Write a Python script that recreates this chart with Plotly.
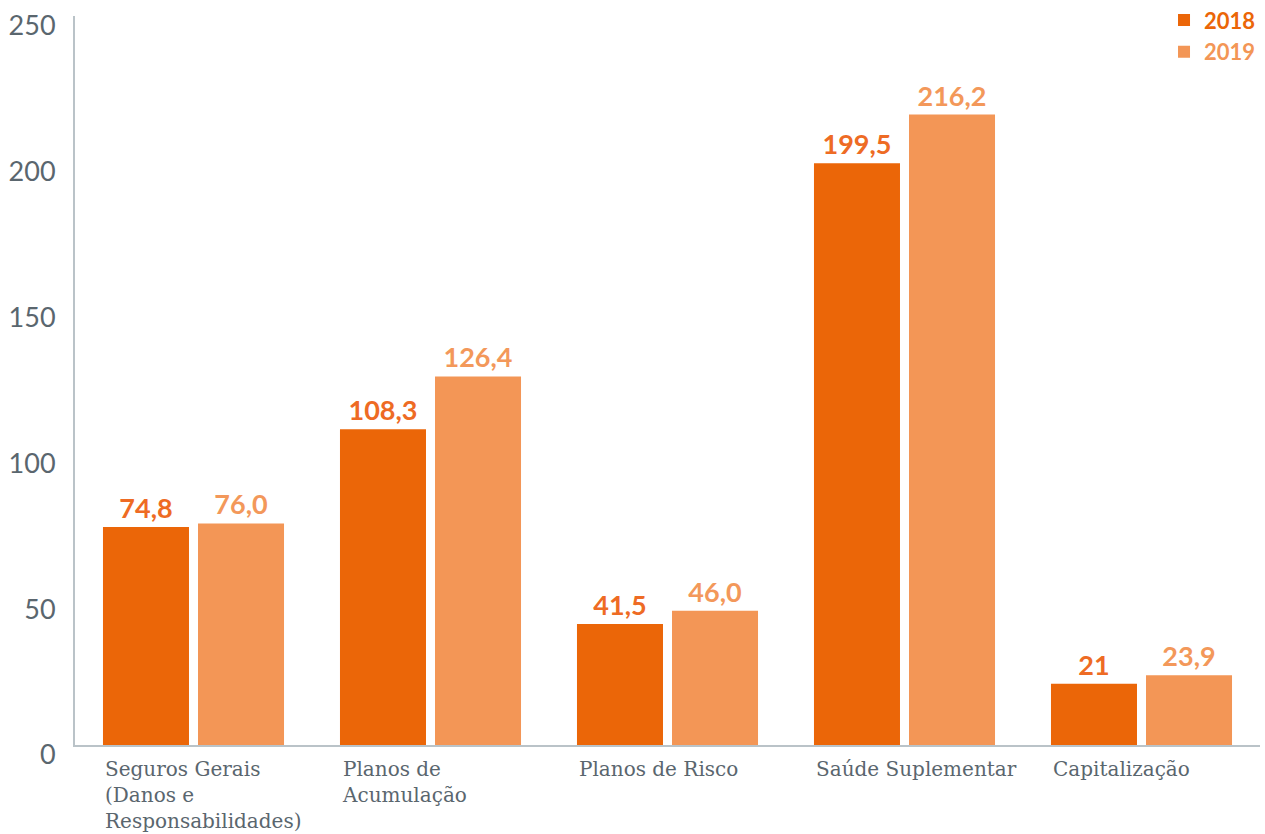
import plotly.graph_objects as go

categories = ["Seguros Gerais<br>(Danos e<br>Responsabilidades)", "Planos de<br>Acumulação",
              "Planos de Risco", "Saúde Suplementar", "Capitalização"]
series_names = ["2018", "2019"]
values_2018 = [74.8, 108.3, 41.5, 199.5, 21]
values_2019 = [76.0, 126.4, 46.0, 216.2, 23.9]
labels_2018 = ["74,8", "108,3", "41,5", "199,5", "21"]
labels_2019 = ["76,0", "126,4", "46,0", "216,2", "23,9"]
y_ticks = [0, 50, 100, 150, 200, 250]

bar_colors = ["#EB6608", "#F39656"]
text_colors = ["#EE6B24", "#F3985A"]
grey = "#5A666E"
axis_col = "#BAC3C8"

fig = go.Figure()
for name, vals, labs, bc, tc in zip(series_names, [values_2018, values_2019],
                                    [labels_2018, labels_2019], bar_colors, text_colors):
    fig.add_trace(go.Bar(
        x=list(range(len(categories))), y=vals,
        name=f'<span style="color:{bc}">{name}</span>', text=labs,
        textposition="outside", texttemplate="%{text}",
        textfont=dict(family="Lato", size=27, color=tc, weight="bold"),
        marker=dict(color=bc, line=dict(width=0)),
        cliponaxis=False,
    ))

for i, c in enumerate(categories):
    fig.add_annotation(
        x=i, y=0, xref="x", yref="y", text=c, showarrow=False,
        xanchor="left", yanchor="top", align="left", xshift=-91, yshift=-10,
        font=dict(family="DejaVu Serif", size=20, color=grey),
    )

fig.update_layout(
    width=1265, height=834,
    margin=dict(l=75, r=5, t=16, b=89, autoexpand=False),
    paper_bgcolor="white", plot_bgcolor="white",
    barmode="group", bargap=0.198, bargroupgap=0.095,
    showlegend=True,
    legend=dict(x=0.919, xanchor="left", y=1.023, yanchor="top",
                font=dict(family="Lato", size=22, weight="bold"),
                bgcolor="rgba(0,0,0,0)", tracegroupgap=0),
    xaxis=dict(range=[-0.5, len(categories) - 0.5], showticklabels=False, showgrid=False,
               zeroline=False, showline=True, linecolor=axis_col, linewidth=2, ticks="",
               automargin=False),
    yaxis=dict(range=[0, 250.01], tickvals=y_ticks, showgrid=False, zeroline=False,
               showline=True, linecolor=axis_col, linewidth=2, ticks="",
               tickfont=dict(family="Lato", size=27, color=grey),
               ticklabelstandoff=12, ticklabelshift=10, ticklabeloverflow="allow",
               automargin=False),
)

fig.write_html("out.html", config={"displayModeBar": False},
               post_script="document.body.style.margin='0';")
